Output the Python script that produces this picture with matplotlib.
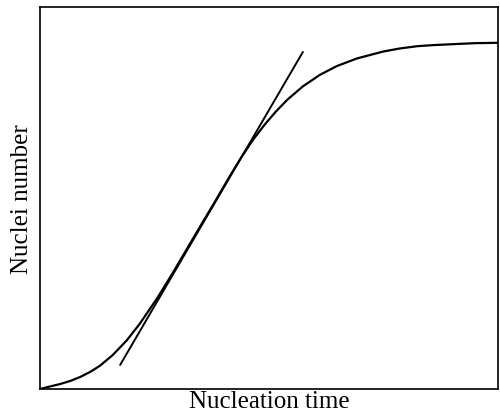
import matplotlib
matplotlib.use("Agg")
import matplotlib.pyplot as plt

# nucleation curve (arbitrary units 0-10)
time = [0.0, 0.20, 0.44, 0.66, 0.87, 1.10, 1.31, 1.59, 1.90, 2.18, 2.55, 2.88,
        3.21, 3.50, 3.78, 4.15, 4.40, 4.65, 4.90, 5.15, 5.40, 5.74, 6.11, 6.48,
        6.92, 7.49, 7.85, 8.23, 8.60, 8.95, 9.50, 10.0]
nuclei = [0.0, 0.06, 0.13, 0.21, 0.31, 0.45, 0.61, 0.89, 1.28, 1.71, 2.36, 3.00,
          3.67, 4.26, 4.82, 5.58, 6.07, 6.52, 6.91, 7.26, 7.57, 7.92, 8.22, 8.45,
          8.65, 8.83, 8.91, 8.97, 9.00, 9.02, 9.05, 9.06]

# tangent line at the steepest part
tangent_t = [1.75, 5.74]
tangent_n = [0.63, 8.82]

fig = plt.figure(figsize=(5.0, 4.14), dpi=100)
ax = fig.add_axes([0.08, 0.058, 0.916, 0.923])

ax.plot(time, nuclei, color="black", lw=1.6, solid_capstyle="round", solid_joinstyle="round")
ax.plot(tangent_t, tangent_n, color="black", lw=1.4, solid_capstyle="round")

ax.set_xlim(0, 10)
ax.set_ylim(0, 10)
ax.set_xticks([])
ax.set_yticks([])
for s in ax.spines.values():
    s.set_linewidth(1.2)

ax.set_xlabel("Nucleation time", fontfamily="Liberation Serif", fontsize=18, labelpad=1)
ax.set_ylabel("Nuclei number", fontfamily="Liberation Serif", fontsize=18, labelpad=5)

fig.savefig("out.png", dpi=100)
